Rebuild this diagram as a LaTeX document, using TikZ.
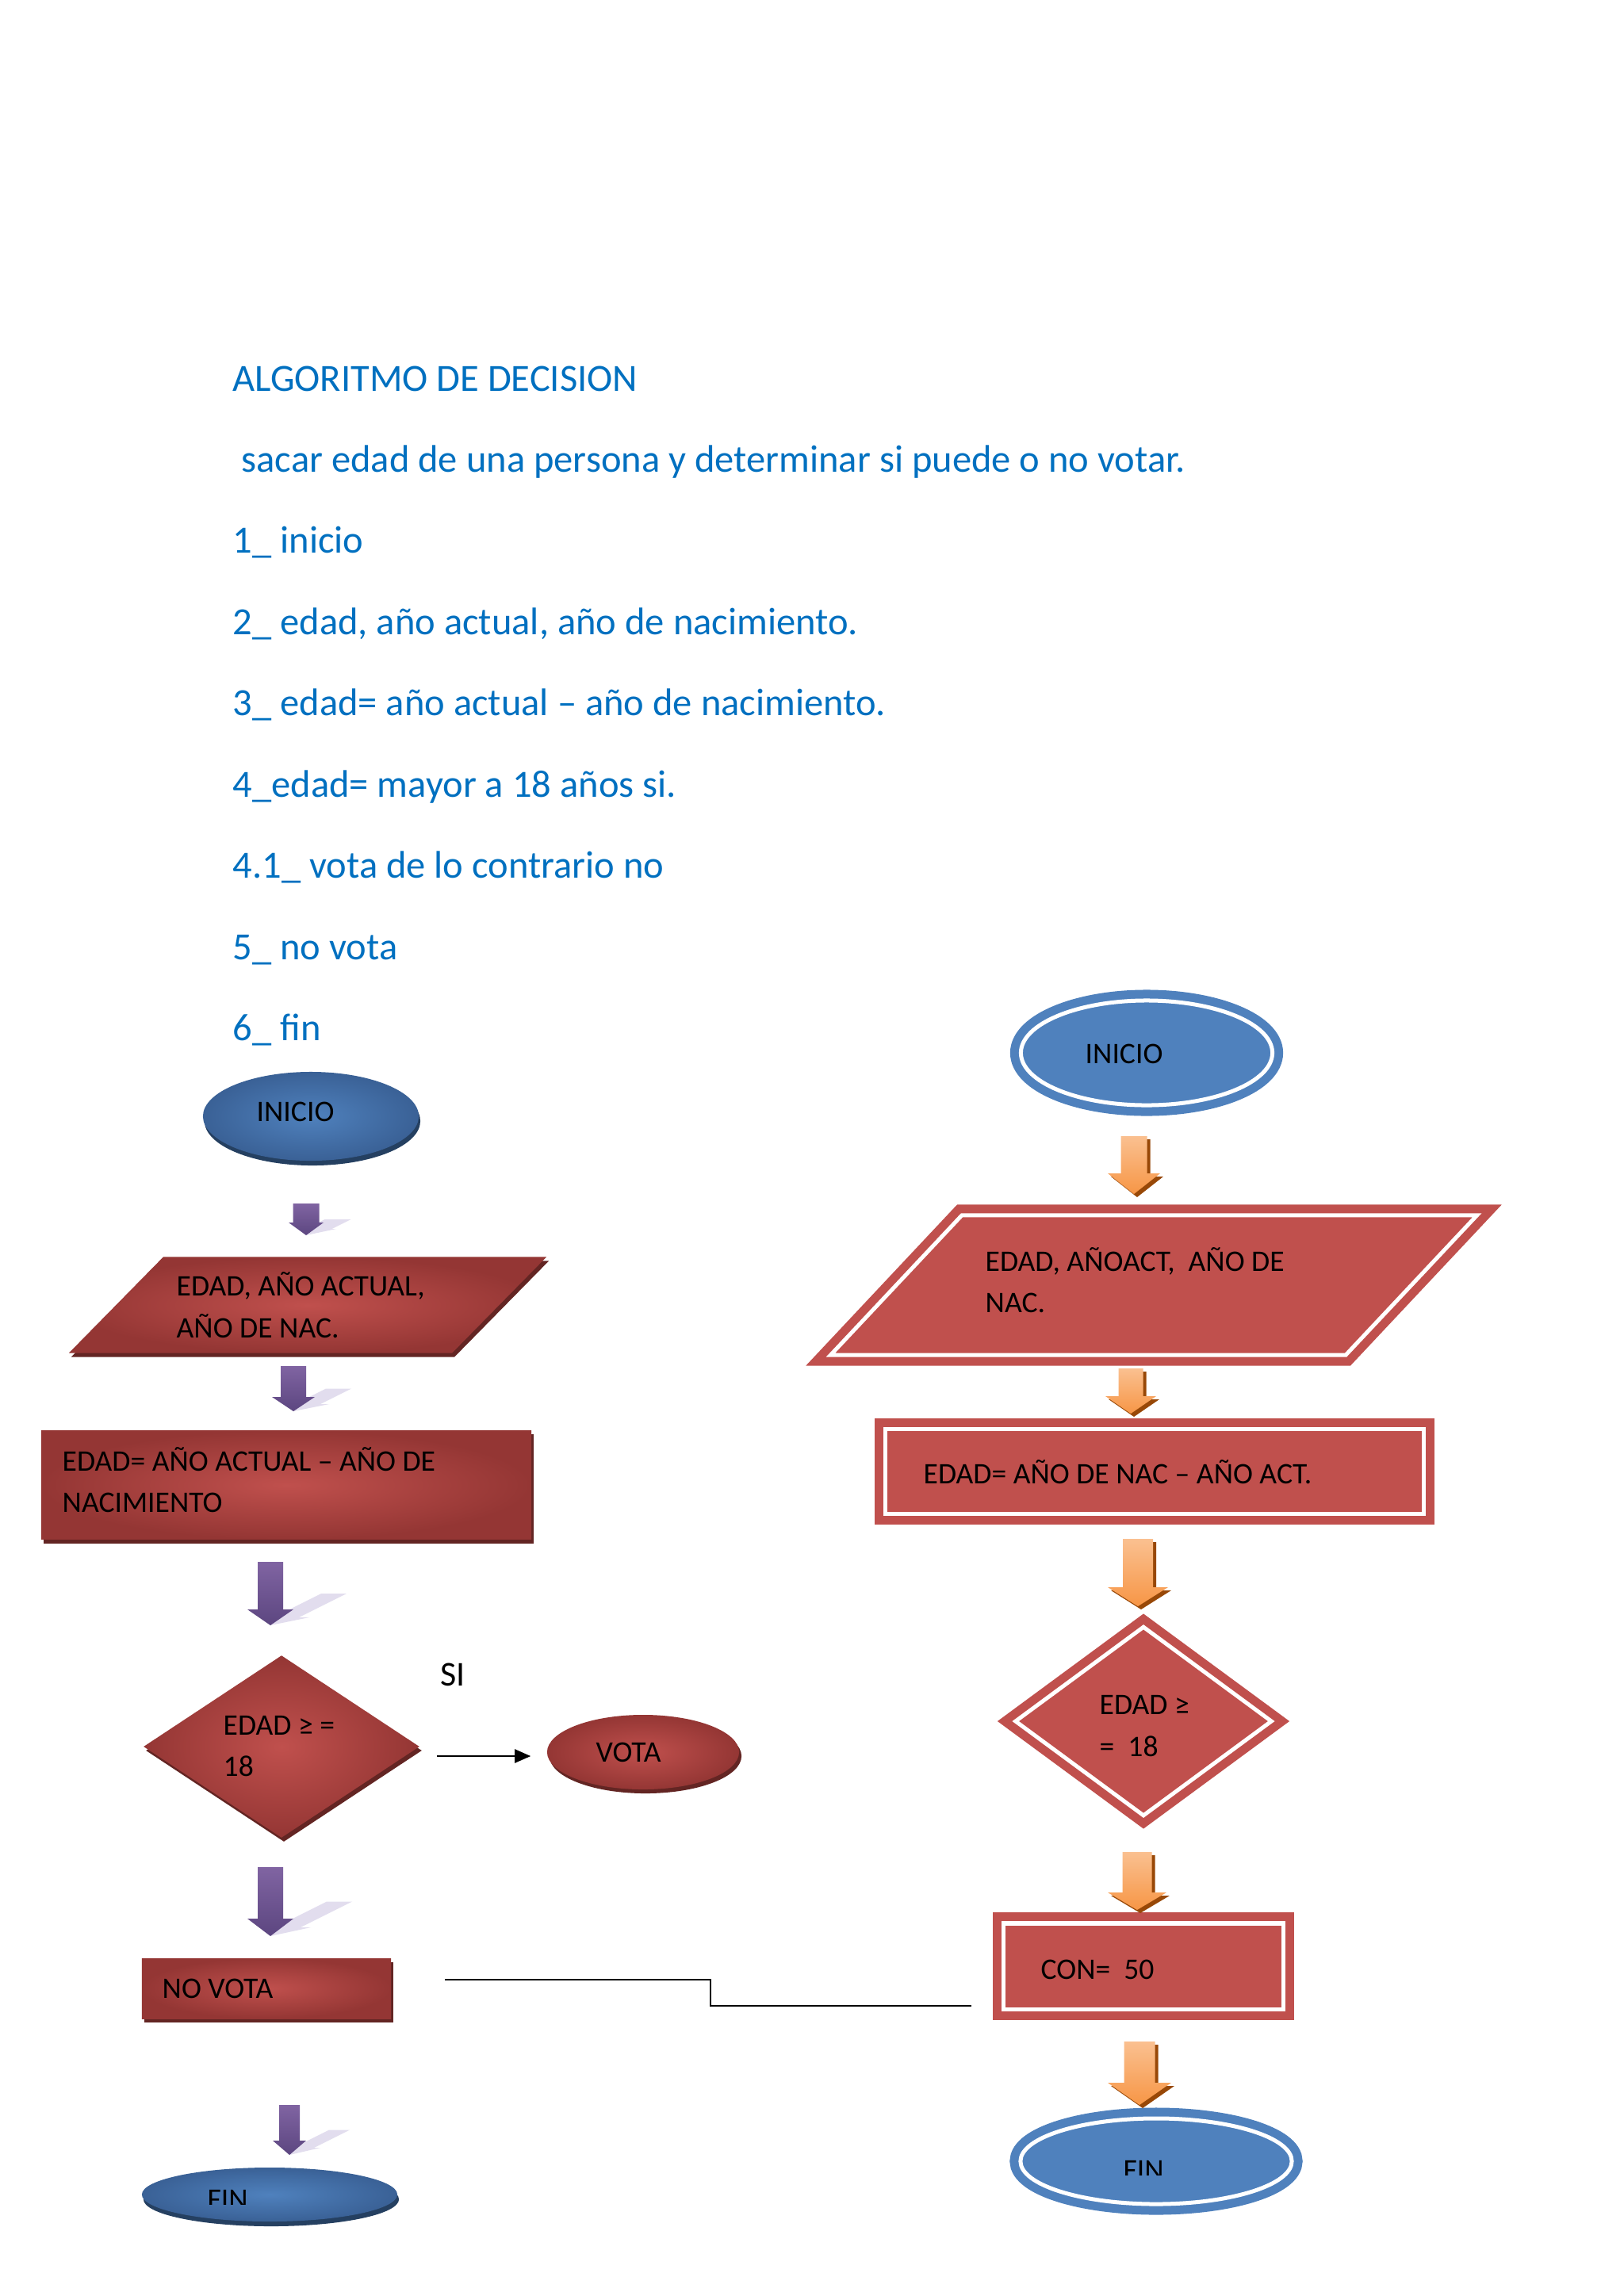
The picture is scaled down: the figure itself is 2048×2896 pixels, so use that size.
\documentclass[tikz,border=0pt]{standalone}
\usepackage{fontspec}
\setmainfont{Carlito}
\usetikzlibrary{shapes.geometric,arrows.meta,calc,shadows}
\definecolor{azulTxt}{HTML}{0070C0}
\definecolor{rojoC}{HTML}{C0504D}
\definecolor{rojoO}{HTML}{943634}
\definecolor{rojoS}{HTML}{632523}
\definecolor{azulC}{HTML}{4F81BD}
\definecolor{azulO}{HTML}{3A6196}
\definecolor{azulS}{HTML}{254061}
\definecolor{moradoC}{HTML}{8064A2}
\definecolor{moradoO}{HTML}{5C4680}
\definecolor{moradoS}{HTML}{E2DDEE}
\definecolor{naranjaC}{HTML}{FAC090}
\definecolor{naranjaO}{HTML}{F79646}
\definecolor{naranjaS}{HTML}{984807}

\tikzset{
  rojo3d/.style={inner sep=0, inner color=rojoC, outer color=rojoO,
    drop shadow={shadow xshift=0.03cm, shadow yshift=-0.05cm, fill=rojoS, opacity=1}},
  azul3d/.style={inner sep=0, inner color=azulC, outer color=azulO,
    drop shadow={shadow xshift=0.02cm, shadow yshift=-0.06cm, fill=azulS, opacity=1}},
  doble/.style={inner sep=0, fill=#1, draw=#1, line width=0.11cm,
    double=white, double distance=0.05cm},
  etiq/.style={anchor=base west, inner sep=0, font=\fontsize{10.7}{13}\selectfont},
  paso/.style={anchor=base west, inner sep=0, text=azulTxt,
    font=\fontsize{13.8}{16}\selectfont},
  conector/.style={line width=0.6pt, -{Triangle[length=0.2cm,width=0.17cm]}},
  linea/.style={line width=0.6pt},
  morada/.style={top color=moradoC, bottom color=moradoO},
  morada sombra/.style={fill=moradoS, yscale=0.5, xslant=1},
  naranja/.style={top color=naranjaC, bottom color=naranjaO},
  naranja sombra/.style={fill=naranjaS, shift={(4,4)}}
}

% flecha de bloque: estilo, x, arriba, punta, medio cuerpo, media cabeza, largo cabeza
\newcommand{\flecha}[7]{%
  \begin{scope}[shift={(#2,#4)}]
    \path[#1 sombra] (-#5,#3-#4) -- (#5,#3-#4) -- (#5,-#7) -- (#6,-#7) -- (0,0)
      -- (-#6,-#7) -- (-#5,-#7) -- cycle;
    \path[#1] (-#5,#3-#4) -- (#5,#3-#4) -- (#5,-#7) -- (#6,-#7) -- (0,0)
      -- (-#6,-#7) -- (-#5,-#7) -- cycle;
  \end{scope}}

\begin{document}
\begin{tikzpicture}[x=0.01cm, y=-0.01cm]
  \fill[white] (0,0) rectangle (2048,2896);
  \useasboundingbox (0,0) rectangle (2048,2896);

  % algoritmo
  \node[paso] (titulo) at (293,493) {ALGORITMO DE DECISION};
  \node[paso] (enunciado) at (304,595) {sacar edad de una persona y determinar si puede o no votar.};
  \foreach \texto [count=\i] in {{1\_ inicio}, {2\_ edad, año actual, año de nacimiento.},
      {3\_ edad= año actual – año de nacimiento.}, {4\_edad= mayor a 18 años si.},
      {4.1\_ vota de lo contrario no}, {5\_ no vota}, {6\_ fin}}
    \node[paso] (paso\i) at (293,{595+102.5*\i}) {\texto};

  % diagrama izquierdo
  \node[ellipse, azul3d, minimum width=2.72cm, minimum height=1.12cm] (inicioA) at (392,1408) {};
  \node[trapezium, trapezium left angle=45.5, trapezium right angle=134.5,
    rojo3d, inner xsep=1.82cm, inner ysep=0.605cm] (entradaA) at (388,1646) {};
  \node[rectangle, rojo3d, minimum width=6.18cm, minimum height=1.37cm] (procesoA) at (361,1873) {};
  \node[diamond, rojo3d, minimum width=3.48cm, minimum height=2.30cm] (decisionA) at (355,2203) {};
  \node[ellipse, rojo3d, minimum width=2.42cm, minimum height=0.94cm] (votaA) at (811,2210) {};
  \node[rectangle, rojo3d, minimum width=3.14cm, minimum height=0.76cm] (novotaA) at (336,2508) {};
  \node[ellipse, azul3d, minimum width=3.22cm, minimum height=0.68cm] (finA) at (340,2768) {};

  \node[etiq] (tInicioA) at (323,1414) {INICIO};
  \node[etiq] (tEntradaA1) at (222,1634) {EDAD, AÑO ACTUAL,};
  \node[etiq] (tEntradaA2) at (222,1687) {AÑO DE NAC.};
  \node[etiq] (tProcesoA1) at (78,1855) {EDAD= AÑO ACTUAL – AÑO DE};
  \node[etiq] (tProcesoA2) at (78,1907) {NACIMIENTO};
  \node[etiq] (tDecisionA1) at (281,2188) {EDAD ≥ =};
  \node[etiq] (tDecisionA2) at (281,2240) {18};
  \node[etiq, font=\fontsize{12.5}{15}\selectfont] (tSi) at (555,2126) {SI};
  \node[etiq] (tVotaA) at (751,2222) {VOTA};
  \node[etiq] (tNovotaA) at (204,2520) {NO VOTA};
  \begin{scope}
    \clip (0,0) rectangle (2048,2780);
    \node[etiq] (tFinA) at (261,2786) {FIN};
  \end{scope}

  \flecha{morada}{386}{1518}{1558}{16.5}{22}{16}
  \flecha{morada}{370}{1723}{1780}{16}{27}{18}
  \flecha{morada}{341}{1970}{2050}{16}{29}{20}
  \flecha{morada}{341}{2355}{2442}{16}{29}{22}
  \flecha{morada}{365}{2655}{2718}{13}{21}{18}

  % diagrama derecho
  \node[ellipse, doble=azulC, minimum width=3.17cm, minimum height=1.32cm] (inicioB) at (1446,1328) {};
  \node[trapezium, trapezium left angle=46.8, trapezium right angle=133.2,
    doble=rojoC, inner xsep=2.42cm, inner ysep=0.88cm] (entradaB) at (1455,1621) {};
  \node[rectangle, doble=rojoC, minimum width=6.78cm, minimum height=1.07cm] (procesoB) at (1456,1856) {};
  \node[diamond, doble=rojoC, minimum width=3.27cm, minimum height=2.42cm] (decisionB) at (1442,2171) {};
  \node[rectangle, doble=rojoC, minimum width=3.53cm, minimum height=1.08cm] (conB) at (1442,2480) {};
  \node[ellipse, doble=azulC, minimum width=3.42cm, minimum height=1.08cm] (finB) at (1458,2726) {};

  \node[etiq] (tInicioB) at (1368,1341) {INICIO};
  \node[etiq] (tEntradaB1) at (1242,1603) {EDAD, AÑOACT,\ \ AÑO DE};
  \node[etiq] (tEntradaB2) at (1242,1655) {NAC.};
  \node[etiq] (tProcesoB) at (1164,1871) {EDAD= AÑO DE NAC – AÑO ACT.};
  \node[etiq] (tDecisionB1) at (1386,2162) {EDAD ≥};
  \node[etiq] (tDecisionB2) at (1386,2215) {=\ \ 18};
  \node[etiq] (tConB) at (1312,2496) {CON=\ \ 50};
  \begin{scope}
    \clip (0,0) rectangle (2048,2743);
    \node[etiq] (tFinB) at (1416,2749) {FIN};
  \end{scope}

  \flecha{naranja}{1430}{1433}{1506}{16.5}{33}{26}
  \flecha{naranja}{1426}{1726}{1783}{15.5}{32}{22}
  \flecha{naranja}{1435}{1941}{2026}{19}{38}{24}
  \flecha{naranja}{1434}{2336}{2409}{18.5}{37}{22}
  \flecha{naranja}{1437}{2575}{2655}{19.5}{40}{28}

  % conectores
  \draw[conector] ($(decisionA.east)+(21,12)$) -- ($(votaA.west)+(-20,5)$);
  \draw[linea] ($(novotaA.east)+(67,-11)$) -- ++(335,0) |- ($(conB.west)+(-35,50)$);
\end{tikzpicture}
\end{document}
